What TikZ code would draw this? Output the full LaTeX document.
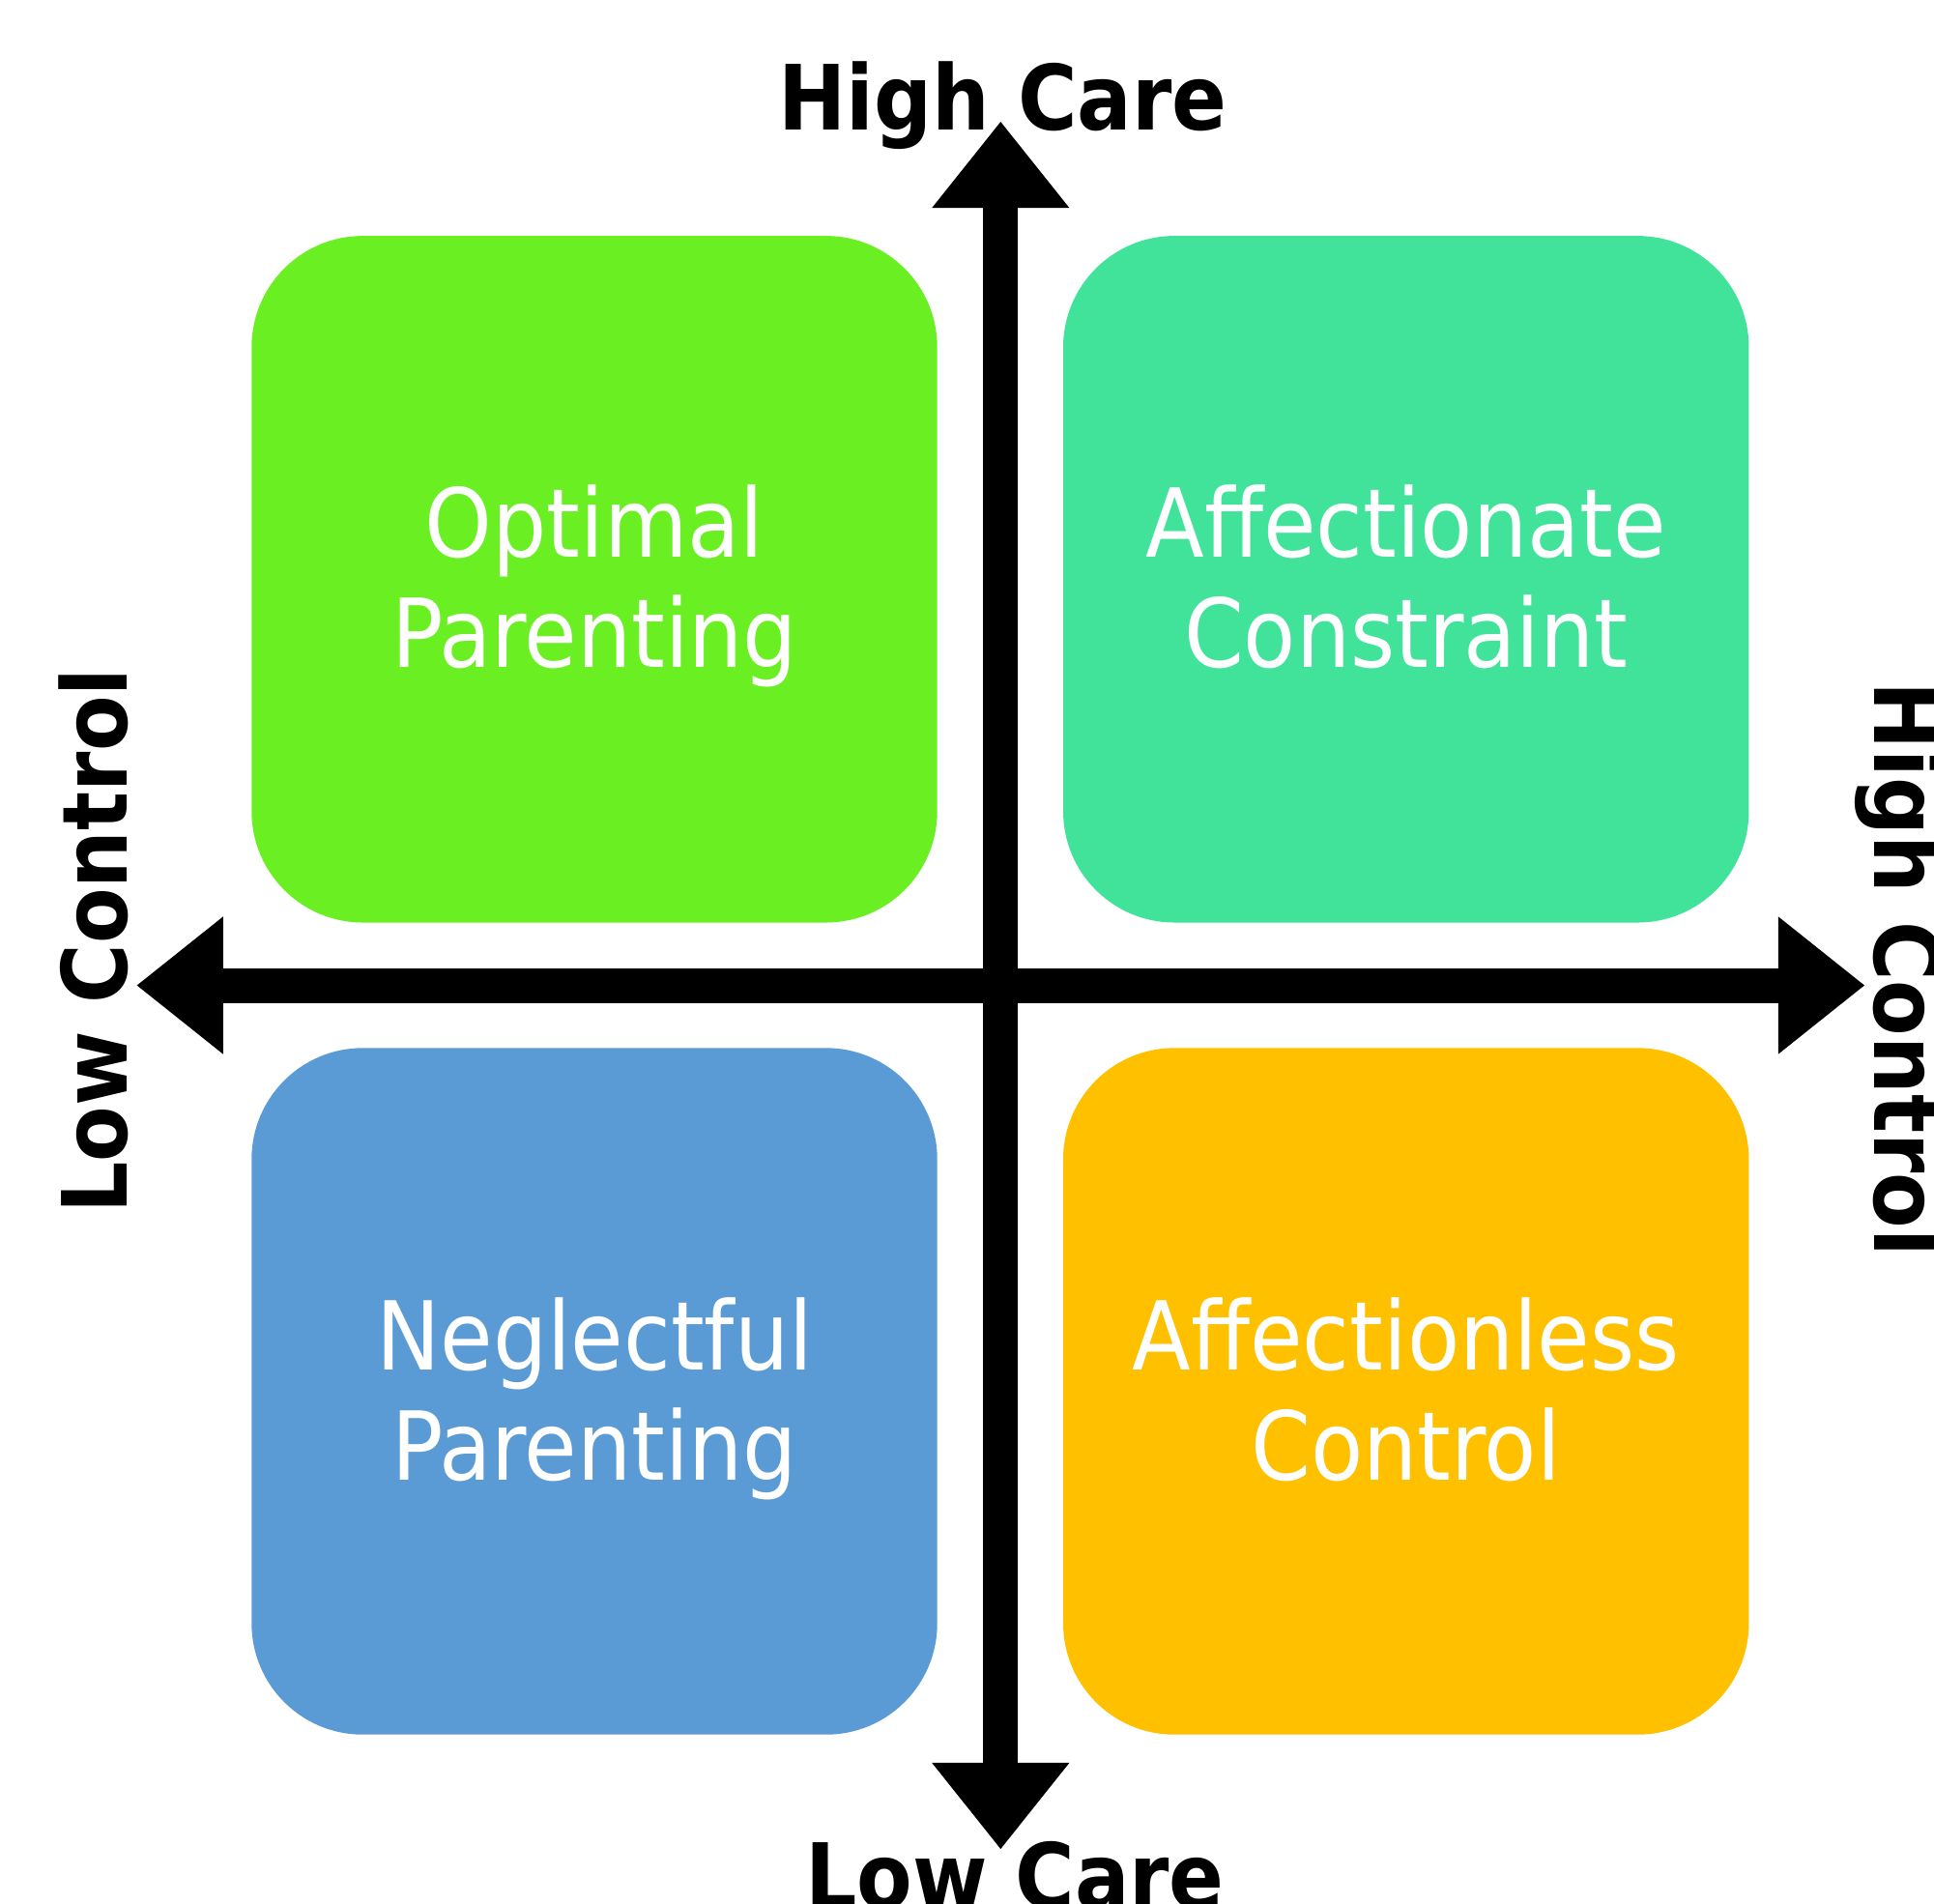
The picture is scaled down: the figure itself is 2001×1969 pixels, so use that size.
\documentclass[tikz,border=0pt]{standalone}
\usepackage{fontspec}
\setmainfont{DejaVu Sans Condensed}
\usepackage{tikz}
\usetikzlibrary{arrows.meta}

\definecolor{careGreen}{HTML}{6AF022}
\definecolor{careTeal}{HTML}{41E39B}
\definecolor{careBlue}{HTML}{5B9BD5}
\definecolor{careGold}{HTML}{FFC000}

\begin{document}
\begin{tikzpicture}[x=0.01cm,y=-0.01cm]
	\newcommand{\quadWidth}{7.09cm}
	\newcommand{\quadHeight}{7.10cm}
	\newcommand{\quadRound}{1.15cm}
	\newcommand{\tipLength}{0.89cm}
	\newcommand{\tipWidth}{1.42cm}

	\tikzset{
		quad/.style={rounded corners=\quadRound, minimum width=\quadWidth, minimum height=\quadHeight,
			inner sep=0pt, text=white, align=center, font=\fontsize{28}{32.4}\selectfont,
			text height=2.0cm, text depth=0.17cm},
		axis/.style={line width=0.36cm,
			{Triangle[length=\tipLength,width=\tipWidth,line width=0pt]}-{Triangle[length=\tipLength,width=\tipWidth,line width=0pt]}},
		heading/.style={font=\bfseries\fontsize{26.5}{30}\selectfont, anchor=base, inner sep=0pt}
	}
	\useasboundingbox (0,0) rectangle (2001,1969);

	% quadrants
	\node[quad, fill=careGreen] (optimal) at (615,599.3) {Optimal\\Parenting};
	\node[quad, fill=careTeal] (affconstraint) at (1454.7,599.3) {Affectionate\\Constraint};
	\node[quad, fill=careBlue] (neglectful) at (615,1439.5) {Neglectful\\Parenting};
	\node[quad, fill=careGold] (affcontrol) at (1454.7,1439.5) {Affectionless\\Control};

	% axes
	\coordinate (carehigh) at (1035.3,126);
	\coordinate (carelow) at (1035.3,1913);
	\coordinate (controllow) at (141.7,1019.5);
	\coordinate (controlhigh) at (1929,1019.5);
	\draw[axis] (carelow) -- (carehigh);
	\draw[axis] (controllow) -- (controlhigh);

	% axis labels
	\node[heading] (highcare) at (1037.7,134.3) {High Care};
	\node[heading] (lowcare) at (1050,1974) {Low Care};
	\node[heading, rotate=90] (lowcontrol) at (131.7,973.5) {Low Control};
	\node[heading, rotate=-90] (highcontrol) at (1939,1002.7) {High Control};
\end{tikzpicture}
\end{document}
